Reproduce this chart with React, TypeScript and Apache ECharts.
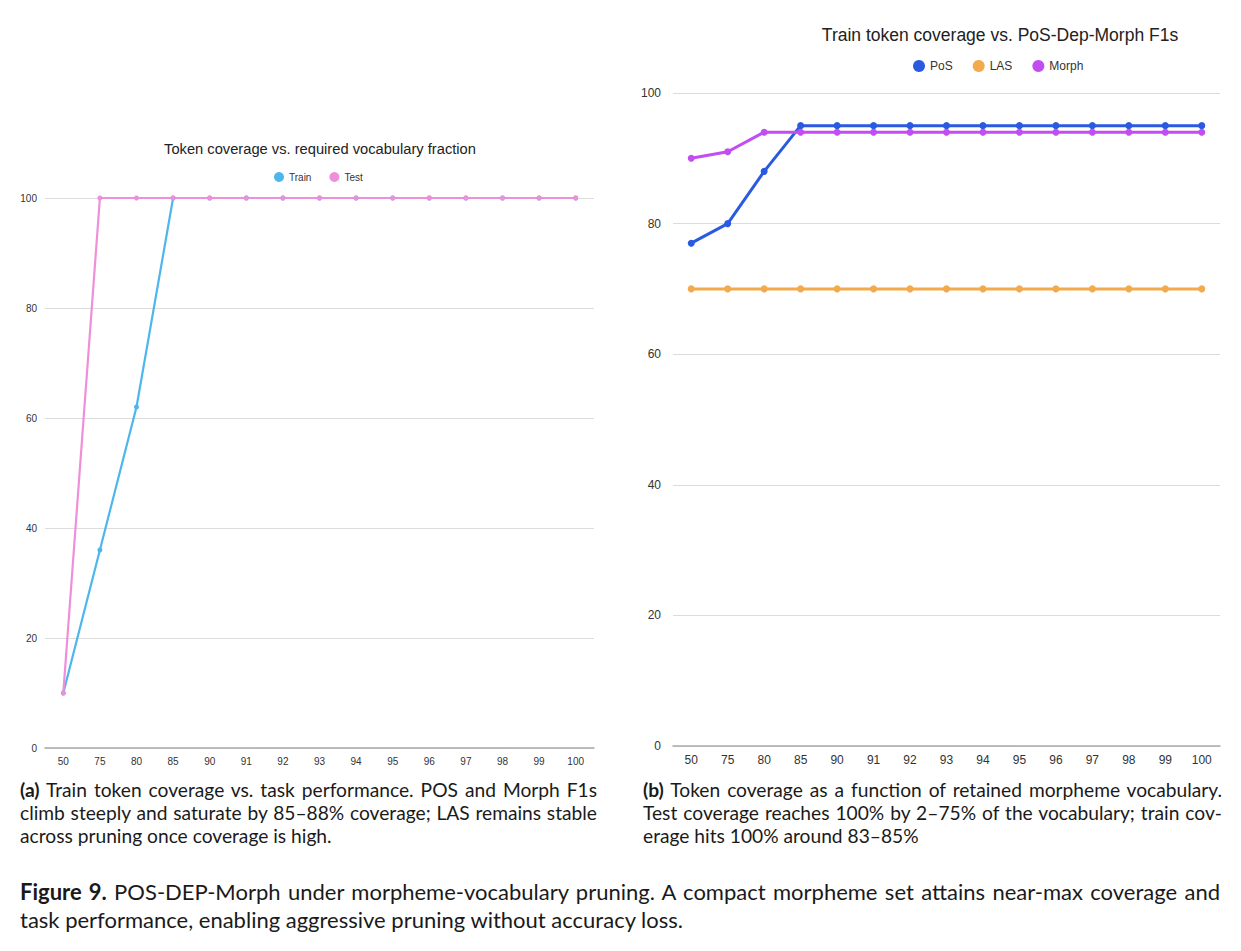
import React, { useEffect, useRef } from "react";
import * as echarts from "echarts";

const categories = ["50", "75", "80", "85", "90", "91", "92", "93", "94", "95", "96", "97", "98", "99", "100"];
const trainCoverage = [10, 36, 62, 100, 100, 100, 100, 100, 100, 100, 100, 100, 100, 100, 100];
const testCoverage = [10, 100, 100, 100, 100, 100, 100, 100, 100, 100, 100, 100, 100, 100, 100];
const posF1 = [77, 80, 88, 95, 95, 95, 95, 95, 95, 95, 95, 95, 95, 95, 95];
const lasF1 = [70, 70, 70, 70, 70, 70, 70, 70, 70, 70, 70, 70, 70, 70, 70];
const morphF1 = [90, 91, 94, 94, 94, 94, 94, 94, 94, 94, 94, 94, 94, 94, 94];

const leftTitle = "Token coverage vs. required vocabulary fraction";
const rightTitle = "Train token coverage vs. PoS-Dep-Morph F1s";

const FONT = "'Liberation Sans', Arial, sans-serif";

export default function App() {
  const ref = useRef<HTMLDivElement>(null);
  useEffect(() => {
    if (!ref.current) return;
    const chart = echarts.init(ref.current, null, { renderer: "svg" });
    const yAxisCommon = (fs: number) => ({
      type: "value" as const,
      min: 0,
      max: 100,
      interval: 20,
      axisLine: { show: false },
      axisTick: { show: false },
      axisLabel: { color: "#333", fontSize: fs, fontFamily: FONT, margin: 8 },
      splitLine: { lineStyle: { color: "#dcdcdc", width: 1 } },
    });
    const xAxisCommon = (fs: number, gi: number) => ({
      type: "category" as const,
      gridIndex: gi,
      data: categories,
      boundaryGap: true,
      axisLine: { lineStyle: { color: "#aaa", width: 1.5 } },
      axisTick: { show: false },
      axisLabel: { color: "#333", fontSize: fs, fontFamily: FONT, margin: 8, interval: 0 },
    });
    const line = (name: string, data: number[], color: string, gi: number, w: number, s: number) => ({
      type: "line" as const,
      name,
      data,
      xAxisIndex: gi,
      yAxisIndex: gi,
      color,
      symbol: "circle",
      symbolSize: s,
      showSymbol: true,
      lineStyle: { color, width: w },
      itemStyle: { color },
    });
    chart.setOption({
      animation: false,
      backgroundColor: "#fff",
      title: [
        {
          text: leftTitle,
          left: 315,
          top: 136,
          textAlign: "center",
          textStyle: { fontFamily: FONT, fontSize: 14.7, fontWeight: "normal", color: "#222" },
        },
        {
          text: rightTitle,
          left: 995,
          top: 21,
          textAlign: "center",
          textStyle: { fontFamily: FONT, fontSize: 17.5, fontWeight: "normal", color: "#222" },
        },
      ],
      legend: [
        {
          data: ["Train", "Test"],
          left: 269,
          top: 167,
          icon: "circle",
          itemWidth: 10,
          itemHeight: 10,
          itemGap: 18,
          textStyle: { fontFamily: FONT, fontSize: 10, color: "#333" },
        },
        {
          data: ["PoS", "LAS", "Morph"],
          left: 908,
          top: 55,
          icon: "circle",
          itemWidth: 12,
          itemHeight: 12,
          itemGap: 20,
          textStyle: { fontFamily: FONT, fontSize: 12, color: "#333" },
        },
      ],
      grid: [
        { left: 45, top: 198, width: 549, height: 550 },
        { left: 673, top: 93, width: 547, height: 653 },
      ],
      xAxis: [xAxisCommon(10, 0), xAxisCommon(12, 1)],
      yAxis: [
        { ...yAxisCommon(10), gridIndex: 0 },
        { ...yAxisCommon(12), gridIndex: 1, axisLabel: { color: "#333", fontSize: 12, fontFamily: FONT, margin: 12 } },
      ],
      series: [
        line("Train", trainCoverage, "#4db6ec", 0, 2.2, 5),
        line("Test", testCoverage, "#ef8fd9", 0, 2.2, 5),
        line("PoS", posF1, "#2a5ae0", 1, 3, 7),
        line("LAS", lasF1, "#f2aa4c", 1, 3, 7),
        line("Morph", morphF1, "#c24ef2", 1, 3, 7),
      ],
    });
    return () => chart.dispose();
  }, []);

  const capFont = "Lato, 'Noto Sans', sans-serif";
  const capStyle: React.CSSProperties = {
    position: "absolute",
    fontFamily: capFont,
    fontSize: 19.2,
    lineHeight: "23px",
    color: "#1a1a1a",
    width: 577,
  };
  const just: React.CSSProperties = { textAlign: "justify", textAlignLast: "justify" as any, whiteSpace: "nowrap" };

  return (
    <div style={{ position: "absolute", left: 0, top: 0, width: 1241, height: 951, background: "#fff" }}>
      <div ref={ref} style={{ position: "absolute", left: 0, top: 0, width: 1241, height: 951 }} />
      <div style={{ ...capStyle, left: 20, top: 778 }}>
        <div style={just}><b>(a)</b> Train token coverage vs. task performance. POS and Morph F1s</div>
        <div style={just}>climb steeply and saturate by 85–88% coverage; LAS remains stable</div>
        <div>across pruning once coverage is high.</div>
      </div>
      <div style={{ ...capStyle, left: 643, top: 778, width: 579 }}>
        <div style={just}><b>(b)</b> Token coverage as a function of retained morpheme vocabulary.</div>
        <div style={just}>Test coverage reaches 100% by 2–75% of the vocabulary; train cov-</div>
        <div>erage hits 100% around 83–85%</div>
      </div>
      <div style={{ ...capStyle, left: 20, top: 878, width: 1200, fontSize: 22, lineHeight: "28px" }}>
        <div style={just}><b>Figure 9.</b> POS-DEP-Morph under morpheme-vocabulary pruning. A compact morpheme set attains near-max coverage and</div>
        <div>task performance, enabling aggressive pruning without accuracy loss.</div>
      </div>
    </div>
  );
}
